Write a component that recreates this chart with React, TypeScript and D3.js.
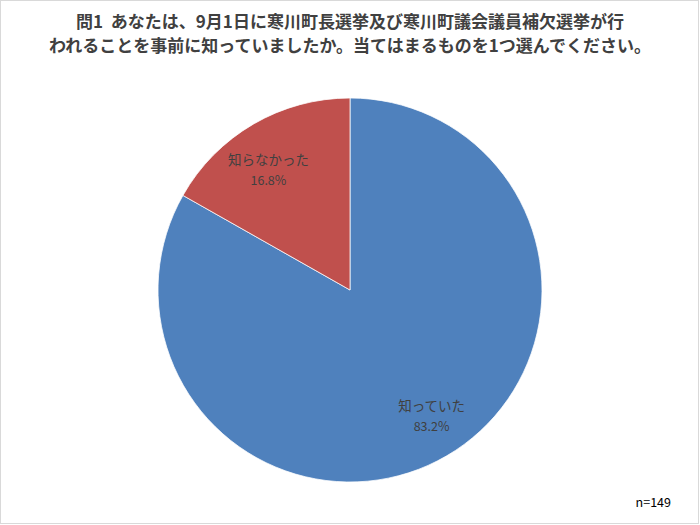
import * as d3 from "d3";

const categories = ["知っていた", "知らなかった"];
const percents = [83.2, 16.8];
const colors = ["#4F81BD", "#C0504D"];
const titleLines = [
  "問1\u00a0\u00a0あなたは、9月1日に寒川町長選挙及び寒川町議会議員補欠選挙が行",
  "われることを事前に知っていましたか。当てはまるものを1つ選んでください。",
];
const sampleNote = "n=149";

const W = 700;
const H = 525;
const cx = 350;
const cy = 290;
const radius = 192;
const font = "'Noto Sans CJK JP', 'Noto Sans', sans-serif";

export default function App() {
  const data = categories.map((c, i) => ({ name: c, value: percents[i], color: colors[i] }));
  const pie = d3
    .pie<{ name: string; value: number; color: string }>()
    .sort(null)
    .value((d) => d.value);
  const arcs = pie(data);
  const arc = d3.arc<d3.PieArcDatum<any>>().innerRadius(0).outerRadius(radius);
  const labelArc = d3.arc<d3.PieArcDatum<any>>().innerRadius(162).outerRadius(162);

  return (
    <svg
      width={W}
      height={H}
      style={{ position: "absolute", left: 0, top: 0 }}
      fontFamily={font}
    >
      <rect x={0.5} y={0.5} width={W - 2} height={H - 2} fill="#fff" stroke="#d9d9d9" />
      {titleLines.map((t, i) => (
        <text
          key={i}
          x={350}
          y={28 + i * 24}
          textAnchor="middle"
          fontSize={17}
          fontWeight="bold"
          fill="#404040"
        >
          {t}
        </text>
      ))}
      <g transform={`translate(${cx},${cy})`}>
        {arcs.map((a, i) => (
          <path key={i} d={arc(a) || ""} fill={a.data.color} stroke="#fff" strokeWidth={0.75} />
        ))}
        {arcs.map((a, i) => {
          const [x, y] = labelArc.centroid(a);
          return (
            <g key={i} transform={`translate(${x},${y * 0.88})`} fill="#404040" fontSize={13.5} textAnchor="middle">
              <text y={-2}>{a.data.name}</text>
              <text y={18} fontSize={12.5}>{`${a.data.value.toFixed(1)}%`}</text>
            </g>
          );
        })}
      </g>
      <text x={671} y={507} textAnchor="end" fontSize={12.5} fill="#000">
        {sampleNote}
      </text>
    </svg>
  );
}
